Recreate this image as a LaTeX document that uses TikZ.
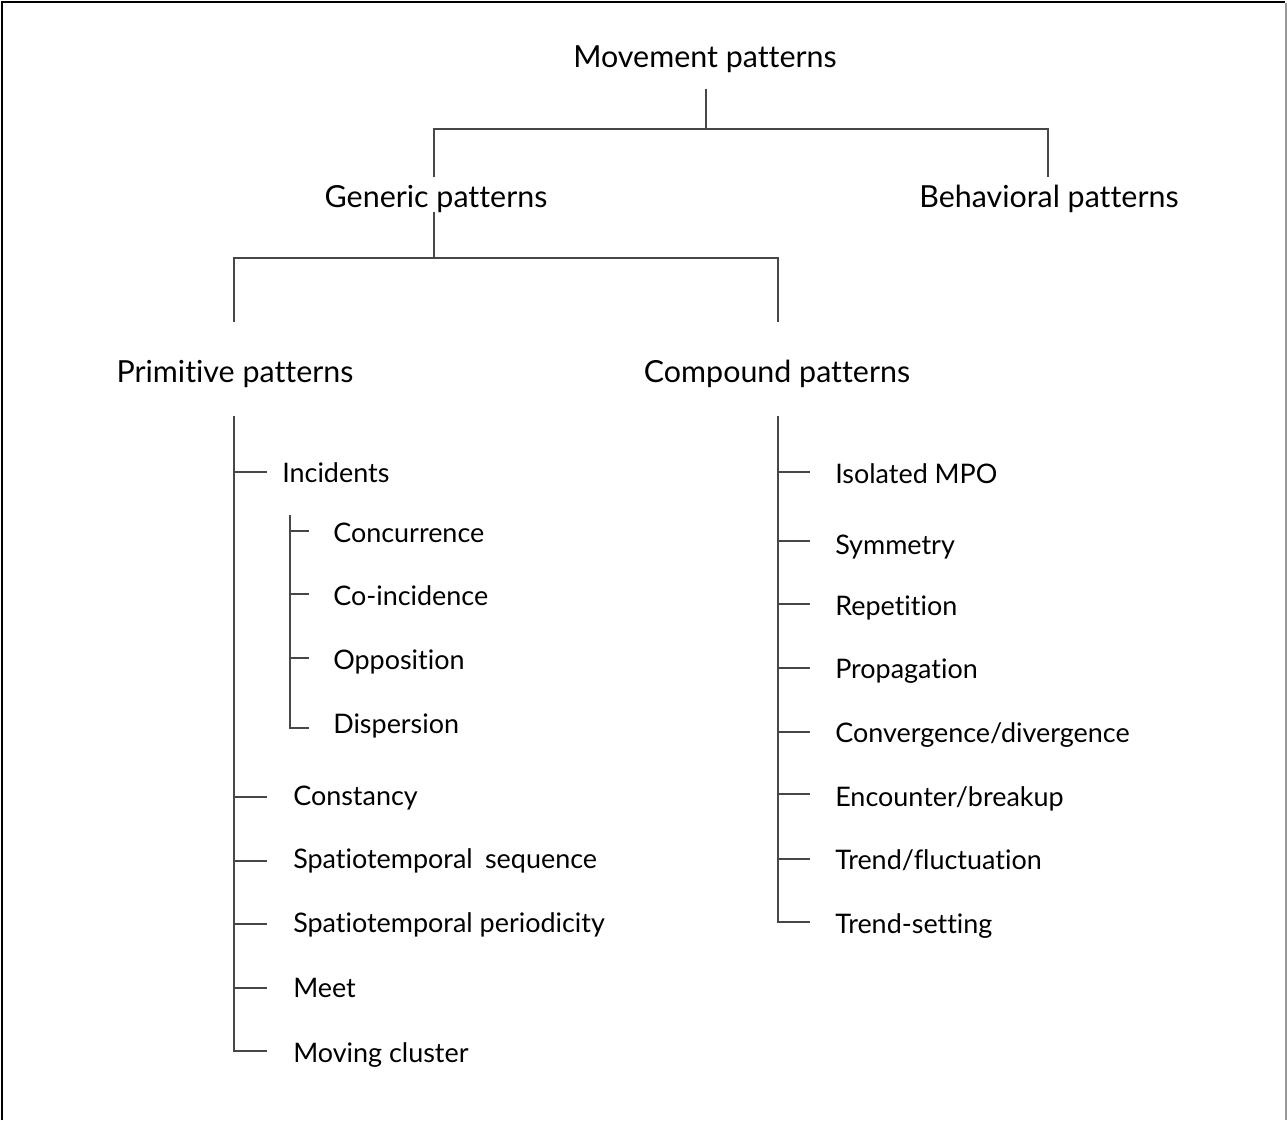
\documentclass[tikz,border=0pt]{standalone}
\usepackage{fontspec}
\setmainfont{Lato}[Ligatures=NoCommon]
\begin{document}
\begin{tikzpicture}[x=0.75pt,y=-0.75pt,
  head/.style={font=\fontsize{22.8}{26}\selectfont, inner sep=0pt, anchor=base},
  item/.style={font=\fontsize{20.2}{24}\selectfont, inner sep=0pt, anchor=base west},
  tree/.style={draw=black!72, line width=0.8pt}]
\useasboundingbox (0,0) rectangle (1287,1120);
% frame
\draw[black, line width=1.5pt] (2,1120) -- (2,2) -- (1285,2);
\draw[black!40, line width=1.3pt] (1286,3) -- (1286,1120);

% headings
\node[head] (mp) at (705,68) {Movement patterns};
\node[head] (gp) at (436,207) {Generic patterns};
\node[head] (bp) at (1049,207) {Behavioral patterns};
\node[head] (pp) at (235,382) {Primitive patterns};
\node[head] (cp) at (777,382) {Compound patterns};

% upper tree
\coordinate (mpS) at (706,89);
\coordinate (j1) at (706,129);
\coordinate (j1L) at (434,129);
\coordinate (j1R) at (1048,129);
\coordinate (gpN) at (434,177);
\coordinate (bpN) at (1048,177);
\draw[tree] (mpS) -- (j1);
\draw[tree] (gpN) -- (j1L) -- (j1R) -- (bpN);
\coordinate (gpS) at (434,212);
\coordinate (j2) at (434,258);
\coordinate (j2L) at (234,258);
\coordinate (j2R) at (778,258);
\coordinate (ppN) at (234,322);
\coordinate (cpN) at (778,322);
\draw[tree] (gpS) -- (j2);
\draw[tree] (ppN) -- (j2L) -- (j2R) -- (cpN);

% left items
\node[item] (inc) at (282,482) {Incidents};
\node[item] (conc) at (333,542) {Concurrence};
\node[item] (coin) at (333,605) {Co-incidence};
\node[item] (opp) at (333,669) {Opposition};
\node[item] (disp) at (333,733) {Dispersion};
\node[item] (const) at (293,805) {Constancy};
\node[item] (seq) at (293,868) {Spatiotemporal\hspace{0.2em} sequence};
\node[item] (per) at (293,932) {Spatiotemporal periodicity};
\node[item] (meet) at (293,997) {Meet};
\node[item] (mov) at (293,1062) {Moving cluster};

\coordinate (lt) at (234,416);
\coordinate (lb) at (234,1051);
\draw[tree] (lt) -- (lb) -- (267,1051);
\foreach \y in {472,797,861,924,988}
  \draw[tree] (234,\y) -- (267,\y);
\coordinate (st) at (290,515);
\coordinate (sb) at (290,728);
\draw[tree] (st) -- (sb) -- (309,728);
\foreach \y in {531,594,658}
  \draw[tree] (290,\y) -- (309,\y);

% right items
\node[item] (iso) at (835,483) {Isolated MPO};
\node[item] (sym) at (835,554) {Symmetry};
\node[item] (rep) at (835,615) {Repetition};
\node[item] (prop) at (835,678) {Propagation};
\node[item] (conv) at (835,742) {Convergence/divergence};
\node[item] (enc) at (835,806) {Encounter/breakup};
\node[item] (trf) at (835,869) {Trend/fluctuation};
\node[item] (trs) at (835,933) {Trend-setting};

\coordinate (rt) at (778,416);
\coordinate (rb) at (778,922);
\draw[tree] (rt) -- (rb) -- (810,922);
\foreach \y in {472,541,604,668,732,794,859}
  \draw[tree] (778,\y) -- (810,\y);
\end{tikzpicture}
\end{document}
